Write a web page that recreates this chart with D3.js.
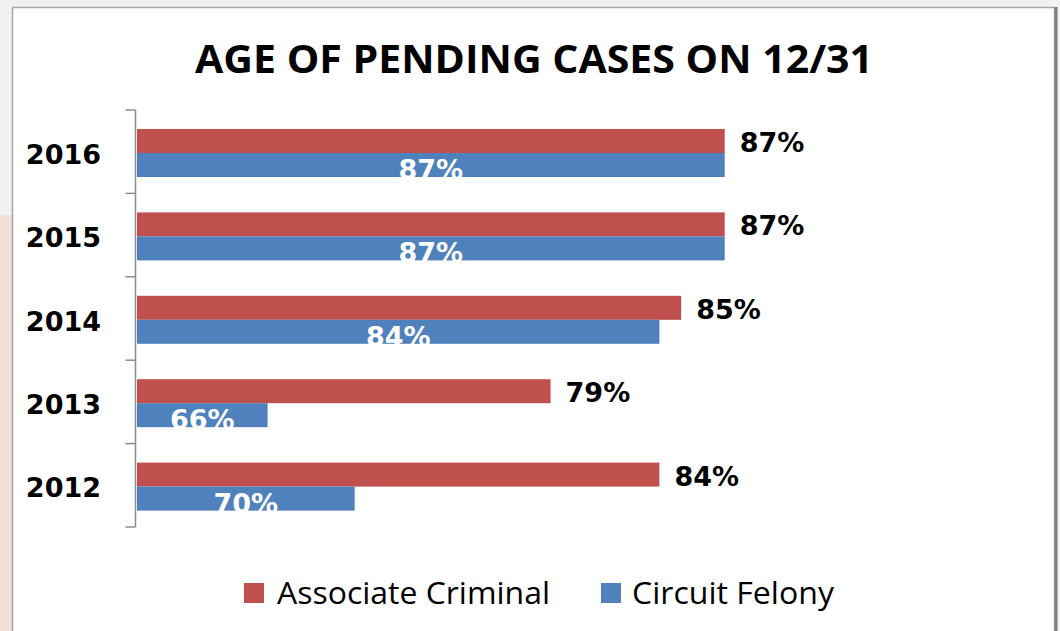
<!DOCTYPE html>
<html>
<head>
<meta charset="utf-8">
<script src="https://cdn.jsdelivr.net/npm/d3@7"></script>
<style>
  html, body { margin: 0; padding: 0; background: #f1f1f1; }
  svg { display: block; }
</style>
</head>
<body>
<svg width="1060" height="631"></svg>
<script>
// data
const years = ["2016", "2015", "2014", "2013", "2012"];
const associateCriminal = [87, 87, 85, 79, 84];
const circuitFelony = [87, 87, 84, 66, 70];
const seriesNames = ["Associate Criminal", "Circuit Felony"];
const seriesColors = ["#c0504d", "#4f81bd"];

const svg = d3.select("svg"),
    width = +svg.attr("width"),
    height = +svg.attr("height");

// page background + left strip
svg.append("rect").attr("width", width).attr("height", height).attr("fill", "#f1f1f1");
svg.append("rect").attr("x", 0).attr("y", 215).attr("width", 13).attr("height", height - 215).attr("fill", "#f2e1d8");

// chart frame
svg.append("rect")
    .attr("x", 12.5).attr("y", 7.5)
    .attr("width", 1042).attr("height", 640)
    .attr("fill", "#ffffff")
    .attr("stroke", "#a6a6a6")
    .attr("stroke-width", 1.5);
svg.append("line")
    .attr("x1", 1056).attr("x2", 1056).attr("y1", 7).attr("y2", height)
    .attr("stroke", "#7f7f7f").attr("stroke-width", 3);

// title
svg.append("text")
    .attr("x", 534).attr("y", 73)
    .attr("text-anchor", "middle")
    .attr("textLength", 678)
    .attr("lengthAdjust", "spacingAndGlyphs")
    .style("font-family", "'Open Sans', 'Liberation Sans', sans-serif")
    .style("font-weight", "bold")
    .style("font-size", "40px")
    .attr("fill", "#000")
    .text("AGE OF PENDING CASES ON 12/31");

const x = d3.scaleLinear().domain([60, 90]).range([137, 790]);
const y = d3.scaleBand().domain(years).range([110, 527]);

const barH = 24;

// y axis
const yAxis = svg.append("g")
    .attr("transform", "translate(135.5,0)");
yAxis.append("line")
    .attr("y1", 110).attr("y2", 527)
    .attr("stroke", "#8c8c8c").attr("stroke-width", 1.5);
yAxis.selectAll("line.tick")
    .data(years.map(d => y(d)).concat([527]))
    .enter().append("line")
    .attr("class", "tick")
    .attr("x1", -10).attr("x2", 0)
    .attr("y1", d => d).attr("y2", d => d)
    .attr("stroke", "#8c8c8c").attr("stroke-width", 1.5);

svg.selectAll("text.year")
    .data(years)
    .enter().append("text")
    .attr("class", "year")
    .attr("x", 101)
    .attr("y", d => y(d) + y.bandwidth() / 2 + 12)
    .attr("text-anchor", "end")
    .style("font-family", "'DejaVu Sans', Verdana, sans-serif")
    .style("font-weight", "bold")
    .style("font-size", "27px")
    .attr("fill", "#000")
    .text(d => d);

const barTop = d => y(d) + 19;

// Associate Criminal bars
svg.selectAll("rect.ac")
    .data(years)
    .enter().append("rect")
    .attr("class", "ac")
    .attr("x", x(60))
    .attr("y", d => barTop(d))
    .attr("width", (d, i) => x(associateCriminal[i]) - x(60))
    .attr("height", barH)
    .attr("fill", seriesColors[0]);

// Circuit Felony bars
svg.selectAll("rect.cf")
    .data(years)
    .enter().append("rect")
    .attr("class", "cf")
    .attr("x", x(60))
    .attr("y", d => barTop(d) + barH)
    .attr("width", (d, i) => x(circuitFelony[i]) - x(60))
    .attr("height", barH)
    .attr("fill", seriesColors[1]);

// labels
svg.selectAll("text.acl")
    .data(years)
    .enter().append("text")
    .attr("class", "acl")
    .attr("x", (d, i) => x(associateCriminal[i]) + 15)
    .attr("y", d => barTop(d) + barH - 1)
    .style("font-family", "'DejaVu Sans', Verdana, sans-serif")
    .style("font-weight", "bold")
    .style("font-size", "27px")
    .attr("fill", "#000")
    .text((d, i) => associateCriminal[i] + "%");

svg.selectAll("text.cfl")
    .data(years)
    .enter().append("text")
    .attr("class", "cfl")
    .attr("x", (d, i) => (x(60) + x(circuitFelony[i])) / 2)
    .attr("y", d => barTop(d) + 2 * barH + 2)
    .attr("text-anchor", "middle")
    .style("font-family", "'DejaVu Sans', Verdana, sans-serif")
    .style("font-weight", "bold")
    .style("font-size", "27px")
    .attr("fill", "#ffffff")
    .text((d, i) => circuitFelony[i] + "%");

// legend
const legendItems = [
    { name: seriesNames[0], color: seriesColors[0], sx: 244, tx: 277, len: 273 },
    { name: seriesNames[1], color: seriesColors[1], sx: 601, tx: 632, len: 202 }
];
const legend = svg.append("g").attr("class", "legend");
legend.selectAll("rect")
    .data(legendItems)
    .enter().append("rect")
    .attr("x", d => d.sx).attr("y", 583)
    .attr("width", 20).attr("height", 20)
    .attr("fill", d => d.color);
legend.selectAll("text")
    .data(legendItems)
    .enter().append("text")
    .attr("x", d => d.tx).attr("y", 604)
    .attr("textLength", d => d.len)
    .attr("lengthAdjust", "spacingAndGlyphs")
    .style("font-family", "'Open Sans', 'Liberation Sans', sans-serif")
    .style("font-size", "31px")
    .attr("fill", "#000")
    .text(d => d.name);
</script>
</body>
</html>
